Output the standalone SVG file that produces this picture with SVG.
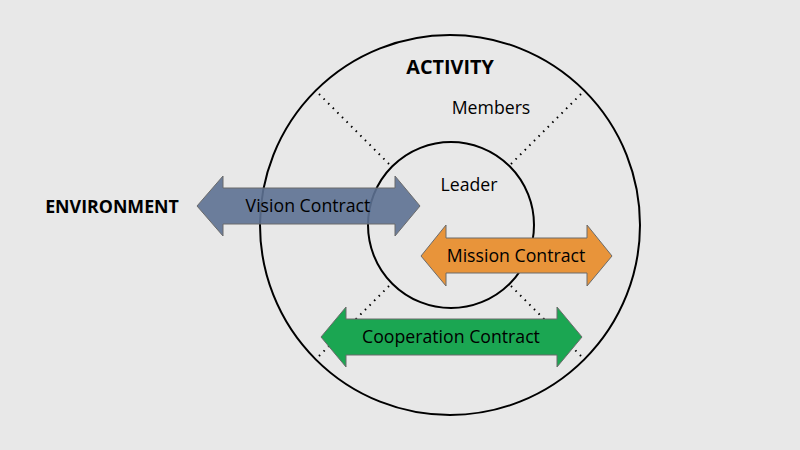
<svg xmlns="http://www.w3.org/2000/svg" width="800" height="450" viewBox="0 0 800 450">
<style>
.ring{fill:none;stroke:#000;stroke-width:2}
.dot{stroke:#000;stroke-width:2;stroke-dasharray:1.5 5;stroke-linecap:butt}
.arrow{stroke:#6b6b6b;stroke-width:1}
.t{font-family:"Open Sans","Noto Sans","Liberation Sans",sans-serif;font-size:17.7px;fill:#000;text-anchor:middle;dominant-baseline:central}
.b{font-weight:bold;font-size:19.8px}
</style>
<rect width="800" height="450" fill="#e8e8e8"/>
<g id="activity">
<circle class="ring" cx="450" cy="225" r="190"/>
<text class="t b" x="450" y="66">ACTIVITY</text>
<text class="t" x="491" y="107">Members</text>
</g>
<g id="connectors">
<line class="dot" x1="319" y1="94" x2="391" y2="166"/>
<line class="dot" x1="581" y1="94" x2="509" y2="166"/>
<line class="dot" x1="319" y1="356" x2="391" y2="284"/>
<line class="dot" x1="581" y1="356" x2="509" y2="284"/>
</g>
<g id="leader">
<circle class="ring" cx="451" cy="225" r="83"/>
<text class="t" x="469" y="184">Leader</text>
</g>
<g id="environment">
<text class="t b" x="112" y="206" style="font-size:17.8px">ENVIRONMENT</text>
</g>
<g id="vision">
<polygon class="arrow" fill="#5d7192" fill-opacity="0.9" points="197,206 223,176 223,188 395,188 395,176 420,206 395,236 395,224 223,224 223,236"/>
<text class="t" x="308" y="205">Vision Contract</text>
</g>
<g id="mission">
<polygon class="arrow" fill="#e8943a" points="421,256 446,225 446,238 587,238 587,225 612,256 587,286 587,273 446,273 446,286"/>
<text class="t" x="516" y="255">Mission Contract</text>
</g>
<g id="cooperation">
<polygon class="arrow" fill="#1ba652" points="321,337 346,307 346,319 557,319 557,307 582,337 557,367 557,355 346,355 346,367"/>
<text class="t" x="451" y="336">Cooperation Contract</text>
</g>
</svg>
